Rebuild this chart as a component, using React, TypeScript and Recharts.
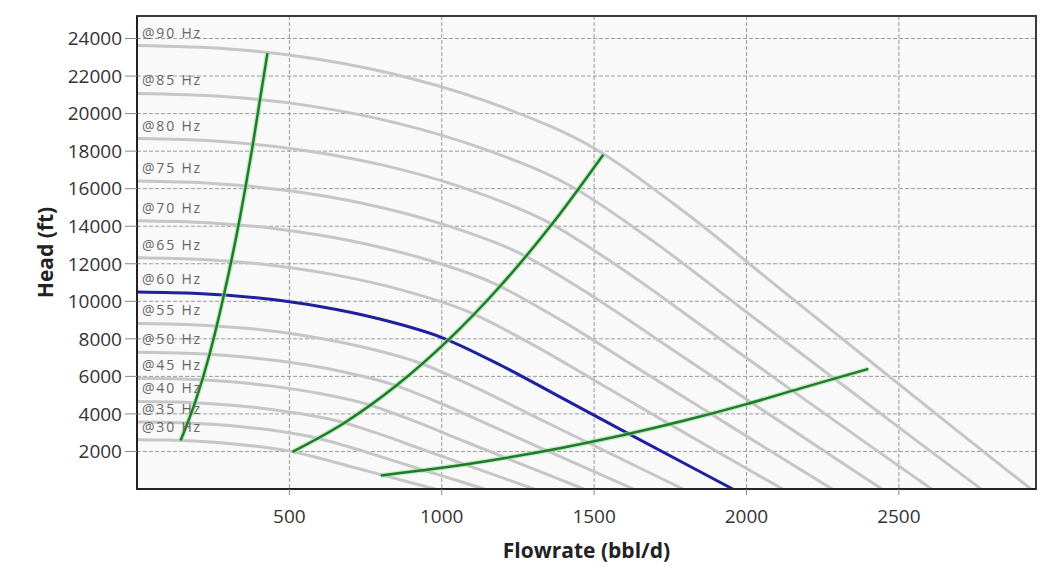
import React from 'react';
import { LineChart, Line, XAxis, YAxis, CartesianGrid, ReferenceArea } from 'recharts';

// ---- axis ticks ----
const flowTicks = [500, 1000, 1500, 2000, 2500];
const headTicks = [2000, 4000, 6000, 8000, 10000, 12000, 14000, 16000, 18000, 20000, 22000, 24000];

// ---- pump speed curves (flow bbl/d, head ft) ----
const flow90 = [0, 300, 600, 900, 1200, 1500, 1800, 2100, 2400, 2700, 2933];
const head90 = [23625, 23445, 22883, 21870, 20340, 18158, 14715, 10800, 6885, 2993, 0];
const flow85 = [0, 283, 567, 850, 1133, 1417, 1700, 1983, 2267, 2550, 2770];
const head85 = [21073, 20912, 20411, 19507, 18143, 16196, 13125, 9633, 6141, 2669, 0];
const flow80 = [0, 267, 533, 800, 1067, 1333, 1600, 1867, 2133, 2400, 2607];
const head80 = [18667, 18524, 18080, 17280, 16071, 14347, 11627, 8533, 5440, 2364, 0];
const flow75 = [0, 250, 500, 750, 1000, 1250, 1500, 1750, 2000, 2250, 2444];
const head75 = [16406, 16281, 15891, 15188, 14125, 12609, 10219, 7500, 4781, 2078, 0];
const flow70 = [0, 233, 467, 700, 933, 1167, 1400, 1633, 1867, 2100, 2281];
const head70 = [14292, 14183, 13843, 13230, 12304, 10984, 8902, 6533, 4165, 1810, 0];
const flow65 = [0, 217, 433, 650, 867, 1083, 1300, 1517, 1733, 1950, 2118];
const head65 = [12323, 12229, 11936, 11408, 10609, 9471, 7675, 5633, 3591, 1561, 0];
const flow60 = [0, 200, 400, 600, 800, 1000, 1200, 1400, 1600, 1800, 1955];
const head60 = [10500, 10420, 10170, 9720, 9040, 8070, 6540, 4800, 3060, 1330, 0];
const flow55 = [0, 183, 367, 550, 733, 917, 1100, 1283, 1467, 1650, 1792];
const head55 = [8823, 8756, 8546, 8168, 7596, 6781, 5495, 4033, 2571, 1118, 0];
const flow50 = [0, 167, 333, 500, 667, 833, 1000, 1167, 1333, 1500, 1629];
const head50 = [7292, 7236, 7063, 6750, 6278, 5604, 4542, 3333, 2125, 924, 0];
const flow45 = [0, 150, 300, 450, 600, 750, 900, 1050, 1200, 1350, 1466];
const head45 = [5906, 5861, 5721, 5468, 5085, 4539, 3679, 2700, 1721, 748, 0];
const flow40 = [0, 133, 267, 400, 533, 667, 800, 933, 1067, 1200, 1303];
const head40 = [4667, 4631, 4520, 4320, 4018, 3587, 2907, 2133, 1360, 591, 0];
const flow35 = [0, 117, 233, 350, 467, 583, 700, 817, 933, 1050, 1140];
const head35 = [3573, 3546, 3461, 3308, 3076, 2746, 2225, 1633, 1041, 453, 0];
const flow30 = [0, 100, 200, 300, 400, 500, 600, 700, 800, 900, 978];
const head30 = [2625, 2605, 2543, 2430, 2260, 2018, 1635, 1200, 765, 333, 0];

// ---- operating limit lines ----
const minFlowQ = [143, 190, 238, 285, 333, 380, 428];
const minFlowH = [2580, 4587, 7167, 10320, 14047, 18347, 23220];
const bepQ = [510, 680, 850, 1020, 1190, 1360, 1530];
const bepH = [1979, 3519, 5498, 7917, 10776, 14075, 17813];
const maxFlowQ = [800, 1000, 1200, 1400, 1600, 1800, 2000, 2200, 2400];
const maxFlowH = [724, 1130, 1630, 2215, 2890, 3660, 4520, 5470, 6400];

const mk = (flow: number[], head: number[]) => flow.map((q, i) => ({ q, h: head[i] }));

const grayCurves = [
  { name: '@90 Hz', data: mk(flow90, head90) },
  { name: '@85 Hz', data: mk(flow85, head85) },
  { name: '@80 Hz', data: mk(flow80, head80) },
  { name: '@75 Hz', data: mk(flow75, head75) },
  { name: '@70 Hz', data: mk(flow70, head70) },
  { name: '@65 Hz', data: mk(flow65, head65) },
  { name: '@55 Hz', data: mk(flow55, head55) },
  { name: '@50 Hz', data: mk(flow50, head50) },
  { name: '@45 Hz', data: mk(flow45, head45) },
  { name: '@40 Hz', data: mk(flow40, head40) },
  { name: '@35 Hz', data: mk(flow35, head35) },
  { name: '@30 Hz', data: mk(flow30, head30) },
];
const blueCurve = { name: '@60 Hz', data: mk(flow60, head60) };
const greenCurves = [mk(minFlowQ, minFlowH), mk(bepQ, bepH), mk(maxFlowQ, maxFlowH)];

const FONT = '"Open Sans", "Noto Sans", sans-serif';

const curveLabel = (text: string) => (p: any) =>
  p.index === 0 ? (
    <text x={p.x + 5} y={p.y - 8} fill="#666" fontSize={14} fontFamily={FONT} letterSpacing={1.8}>
      {text}
    </text>
  ) : null;

export default function App() {
  return (
    <div style={{ position: 'absolute', left: 0, top: 0, width: 1053, height: 569, background: '#ffffff' }}>
      <LineChart width={1053} height={569} margin={{ top: 16, right: 17, left: 0, bottom: 0 }}>
        <CartesianGrid
          stroke="#9a9a9a"
          strokeDasharray="4 2"
          fill="#f9f9f9"
          horizontalValues={headTicks}
          verticalValues={flowTicks}
        />
        <XAxis
          type="number"
          dataKey="q"
          domain={[0, 2950]}
          ticks={flowTicks}
          allowDataOverflow
          height={80}
          tickSize={6}
          tickMargin={15}
          axisLine={{ stroke: '#222', strokeWidth: 2 }}
          tickLine={{ stroke: '#888' }}
          tick={{ fill: '#333', fontSize: 19, fontFamily: FONT }}
          label={{
            value: 'Flowrate (bbl/d)',
            position: 'insideBottom',
            offset: 11,
            style: { fill: '#222', fontSize: 21, fontWeight: 700, fontFamily: FONT },
          }}
        />
        <YAxis
          type="number"
          dataKey="h"
          domain={[0, 25200]}
          ticks={headTicks}
          allowDataOverflow
          width={137}
          tickSize={12}
          tickMargin={3}
          axisLine={{ stroke: '#222', strokeWidth: 2 }}
          tickLine={{ stroke: '#888' }}
          tick={{ fill: '#333', fontSize: 19, fontFamily: FONT }}
          label={(props: any) => {
            const vb = props.viewBox;
            const cx = 45;
            const cy = vb.y + vb.height / 2;
            return (
              <text
                x={cx}
                y={cy}
                transform={`rotate(-90 ${cx} ${cy})`}
                textAnchor="middle"
                dominantBaseline="central"
                fill="#222"
                fontSize={21}
                fontWeight={700}
                fontFamily={FONT}
              >
                Head (ft)
              </text>
            );
          }}
        />
        {grayCurves.map((c) => (
          <Line
            key={c.name}
            data={c.data}
            dataKey="h"
            type="monotone"
            stroke="#c6c6c6"
            strokeWidth={3}
            dot={false}
            activeDot={false}
            isAnimationActive={false}
            label={curveLabel(c.name)}
          />
        ))}
        <Line
          data={blueCurve.data}
          dataKey="h"
          type="monotone"
          stroke="#1f1fa0"
          strokeWidth={3}
          dot={false}
          activeDot={false}
          isAnimationActive={false}
          label={curveLabel(blueCurve.name)}
        />
        {greenCurves.map((d, i) => (
          <Line
            key={'halo' + i}
            data={d}
            dataKey="h"
            type="monotone"
            stroke="#9fe39f"
            strokeWidth={5}
            strokeOpacity={0.6}
            dot={false}
            activeDot={false}
            isAnimationActive={false}
          />
        ))}
        {greenCurves.map((d, i) => (
          <Line
            key={'green' + i}
            data={d}
            dataKey="h"
            type="monotone"
            stroke="#217a2b"
            strokeWidth={2.5}
            dot={false}
            activeDot={false}
            isAnimationActive={false}
          />
        ))}
        <ReferenceArea
          x1={0}
          x2={2950}
          y1={0}
          y2={25200}
          fill="none"
          stroke="#3a3a3a"
          strokeWidth={2}
          ifOverflow="visible"
        />
      </LineChart>
    </div>
  );
}
